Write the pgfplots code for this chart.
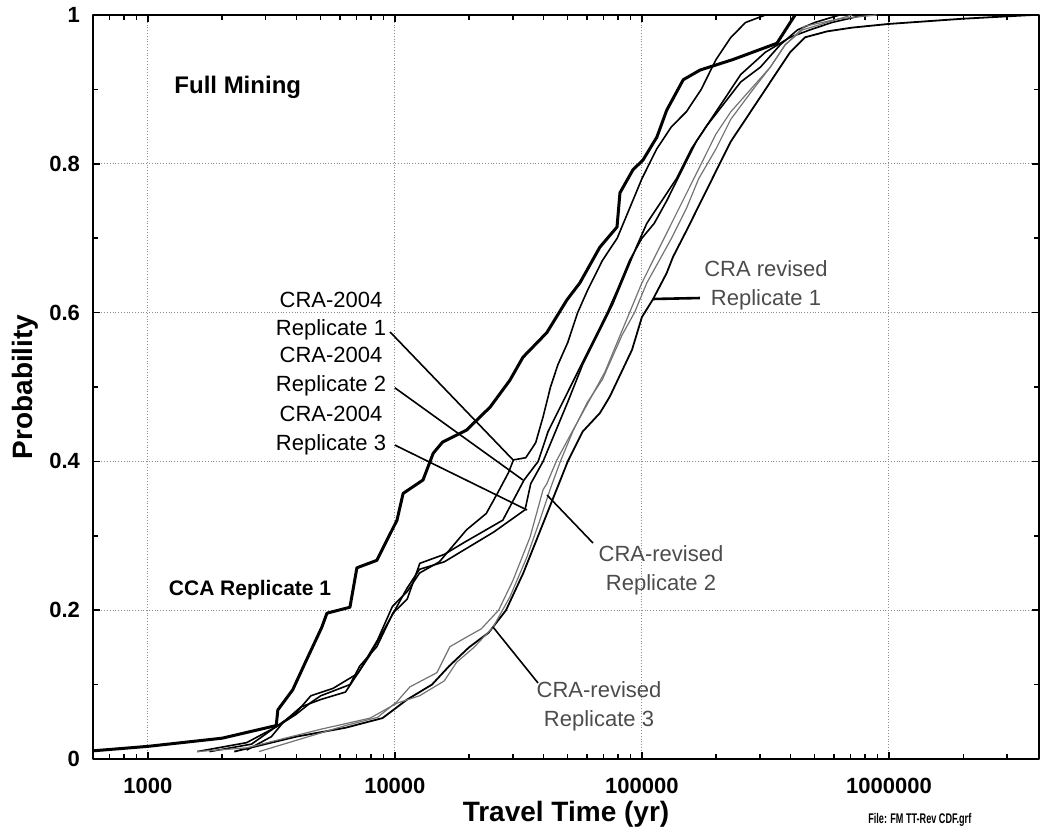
\documentclass[border=0pt]{standalone}
\usepackage{fontspec}
\setmainfont{Liberation Sans}
\usepackage{pgfplots}
\pgfplotsset{compat=1.18}

\begin{document}
\begin{tikzpicture}
\begin{axis}[
    name=ax,
    scale only axis,
    width=473pt, height=372pt,
    xmode=log,
    xmin=600, xmax=4.05e6,
    ymin=0, ymax=1,
    xtick={1000,10000,100000,1000000},
    xticklabels={1000,10000,100000,1000000},
    minor xtick={700,800,900,2000,3000,4000,5000,6000,7000,8000,9000,
      20000,30000,40000,50000,60000,70000,80000,90000,
      200000,300000,400000,500000,600000,700000,800000,900000,2000000,3000000},
    ytick={0,0.2,0.4,0.6,0.8,1},
    yticklabels={0,0.2,0.4,0.6,0.8,1},
    minor ytick={0.1,0.3,0.5,0.7,0.9},
    tick align=inside,
    major tick length=3.5pt,
    minor tick length=2.5pt,
    tick style={black, line width=0.8pt},
    grid=major,
    major grid style={densely dotted, black!45, line width=0.5pt},
    axis line style={line width=1pt},
    ticklabel style={font=\bfseries\fontsize{11}{13}\selectfont},
    xticklabel shift=6pt,
    yticklabel shift=3pt,
    xlabel={Travel Time (yr)},
    ylabel={Probability},
    label style={font=\bfseries\fontsize{14}{17}\selectfont},
    xlabel style={at={(axis description cs:0.5,-0.074)}, anchor=center},
    ylabel style={at={(axis description cs:-0.072,0.5)}, anchor=center},
    clip=false,
    line join=round,
]

% CCA Replicate 1
\addplot[black, line width=1.5pt, no marks] coordinates {
(600,0.011)(1000,0.017)(2000,0.028)(3310,0.045)(3360,0.066)(3860,0.093)
(4330,0.129)(5060,0.177)(5310,0.196)(6580,0.204)(7020,0.257)(8450,0.267)
(10200,0.321)(10800,0.357)(13000,0.375)(14300,0.411)(15600,0.426)(19500,0.442)
(24300,0.473)(29200,0.509)(33000,0.540)(41200,0.573)(49700,0.617)(56100,0.640)
(67600,0.688)(79300,0.715)(81500,0.761)(92000,0.792)(101000,0.805)(115000,0.836)
(126000,0.872)(147000,0.913)(172000,0.926)(233000,0.940)(352000,0.962)
(397000,0.989)(417000,1.0)};

% CRA-2004 Replicate 1
\addplot[black, line width=0.8pt, no marks] coordinates {
(1778,0.010)(2630,0.020)(3388,0.046)(3981,0.062)(4571,0.085)(5623,0.095)
(7079,0.115)(8511,0.160)(9772,0.205)(11220,0.225)(12590,0.250)(15140,0.265)
(19500,0.308)(23440,0.330)(26300,0.360)(28840,0.385)(30200,0.402)(33880,0.405)
(37150,0.425)(39810,0.46)(42660,0.50)(45710,0.53)(50120,0.56)(54950,0.60)
(60260,0.63)(69180,0.67)(79430,0.70)(89130,0.74)(100000,0.78)(114800,0.82)
(131800,0.85)(151400,0.87)(173800,0.90)(199500,0.94)(229100,0.97)(263000,0.99)
(316200,1.0)};

% CRA-2004 Replicate 2
\addplot[black, line width=0.8pt, no marks] coordinates {
(1585,0.010)(2512,0.022)(3388,0.045)(3981,0.060)(4529,0.075)(5012,0.085)
(6577,0.100)(7211,0.125)(8453,0.151)(9817,0.196)(11220,0.215)(12620,0.263)
(15850,0.275)(18840,0.290)(27350,0.321)(33340,0.375)(38020,0.40)(41690,0.44)
(47860,0.48)(54950,0.52)(63100,0.56)(72440,0.60)(79430,0.63)(89130,0.67)
(100000,0.70)(112200,0.72)(125900,0.75)(144500,0.79)(166000,0.83)(190500,0.86)
(218800,0.89)(251200,0.92)(316200,0.95)(398100,0.97)(478600,0.98)(588800,0.99)
(794300,1.0)};

% CRA-2004 Replicate 3
\addplot[black, line width=0.8pt, no marks] coordinates {
(2512,0.012)(3162,0.030)(3548,0.050)(4169,0.070)(5012,0.080)(6310,0.090)
(6918,0.110)(7943,0.140)(8913,0.170)(10000,0.200)(11220,0.230)(12590,0.255)
(15850,0.265)(19950,0.285)(25120,0.305)(33650,0.335)(35480,0.37)(39810,0.40)
(44670,0.44)(50120,0.48)(57540,0.53)(66070,0.57)(75860,0.61)(85110,0.65)
(95500,0.69)(104700,0.72)(120200,0.75)(138000,0.78)(158500,0.82)(182000,0.85)
(213800,0.88)(251200,0.91)(302000,0.93)(363100,0.96)(426600,0.98)(501200,0.99)
(631000,1.0)};

% CRA revised Replicate 1
\addplot[black, line width=0.9pt, no marks] coordinates {
(2239,0.010)(3981,0.030)(6310,0.042)(8913,0.055)(11220,0.080)(14130,0.100)
(16600,0.125)(19950,0.150)(23990,0.170)(28180,0.200)(33110,0.250)(38020,0.300)
(43650,0.350)(50120,0.400)(57540,0.440)(67610,0.465)(74130,0.487)(91200,0.550)
(100000,0.594)(110900,0.618)(125900,0.653)(133700,0.675)(151400,0.71)
(173800,0.75)(199500,0.79)(229100,0.83)(263000,0.86)(302000,0.89)(346700,0.92)
(398100,0.95)(457100,0.97)(562300,0.978)(707900,0.983)(1000000,0.988)
(1995000,0.995)(3802000,1.0)};

% CRA-revised Replicate 2
\addplot[black!55, line width=0.6pt, no marks] coordinates {
(2818,0.010)(3981,0.025)(6310,0.045)(8511,0.056)(10190,0.077)(11510,0.097)
(14790,0.116)(16710,0.151)(19540,0.164)(22390,0.175)(26300,0.200)(30060,0.240)
(35240,0.298)(39810,0.362)(41210,0.370)(45290,0.402)(52600,0.442)(61520,0.483)
(70790,0.52)(79430,0.56)(89130,0.60)(100000,0.64)(114800,0.68)(131800,0.72)
(151400,0.76)(173800,0.80)(199500,0.84)(229100,0.87)(275400,0.90)(331100,0.93)
(380200,0.96)(446700,0.98)(562300,0.99)(707900,1.0)};

% CRA-revised Replicate 3
\addplot[black!55, line width=0.6pt, no marks] coordinates {
(1585,0.010)(2512,0.015)(5012,0.040)(7943,0.055)(10190,0.075)(12590,0.085)
(15850,0.105)(17780,0.130)(20890,0.150)(24950,0.177)(29240,0.218)(34200,0.271)
(38640,0.321)(42460,0.362)(46770,0.40)(52480,0.44)(60260,0.48)(69180,0.51)
(75860,0.54)(83180,0.57)(93330,0.60)(104700,0.64)(117500,0.67)(131800,0.70)
(151400,0.74)(169800,0.78)(199500,0.82)(229100,0.86)(281800,0.90)(331100,0.93)
(380200,0.96)(457100,0.985)(631000,0.995)(891300,1.0)};

% annotations
\node[font=\bfseries\fontsize{12}{14}\selectfont] at (rel axis cs:0.153,0.903) {Full Mining};
\node[font=\bfseries\fontsize{10.5}{13}\selectfont] at (rel axis cs:0.166,0.227) {CCA Replicate 1};

\node[align=center, font=\fontsize{11}{14.3}\selectfont] at (rel axis cs:0.2516,0.5954) {CRA-2004\\Replicate 1};
\node[align=center, font=\fontsize{11}{14.3}\selectfont] at (rel axis cs:0.2516,0.5208) {CRA-2004\\Replicate 2};
\node[align=center, font=\fontsize{11}{14.3}\selectfont] at (rel axis cs:0.2516,0.4415) {CRA-2004\\Replicate 3};
\draw[black, line width=0.8pt] (rel axis cs:0.314,0.574) -- (rel axis cs:0.444,0.402);
\draw[black, line width=0.8pt] (rel axis cs:0.319,0.499) -- (rel axis cs:0.4545,0.375);
\draw[black, line width=0.8pt] (rel axis cs:0.319,0.422) -- (rel axis cs:0.4588,0.3347);

\node[align=center, text=black!70, font=\fontsize{11}{14.3}\selectfont] at (rel axis cs:0.7114,0.637) {CRA revised\\Replicate 1};
\draw[black, line width=1.3pt] (rel axis cs:0.592,0.6183) -- (rel axis cs:0.6416,0.6196);
\node[align=center, text=black!70, font=\fontsize{11}{14.3}\selectfont] at (rel axis cs:0.6004,0.254) {CRA-revised\\Replicate 2};
\draw[black, line width=0.8pt] (rel axis cs:0.5285,0.2903) -- (rel axis cs:0.4799,0.3548);
\node[align=center, text=black!70, font=\fontsize{11}{14.3}\selectfont] at (rel axis cs:0.5349,0.0712) {CRA-revised\\Replicate 3};
\draw[black, line width=0.8pt] (rel axis cs:0.4704,0.1022) -- (rel axis cs:0.4228,0.1774);

\node[font=\bfseries\fontsize{7}{8}\selectfont] at (rel axis cs:0.874,-0.082) {\scalebox{0.65}[1]{File: FM TT-Rev CDF.grf}};
\end{axis}
\pgfresetboundingbox
\path ([shift={(-46.5pt,-38.5pt)}]ax.south west) rectangle ([shift={(5.5pt,7.5pt)}]ax.north east);
\end{tikzpicture}
\end{document}
